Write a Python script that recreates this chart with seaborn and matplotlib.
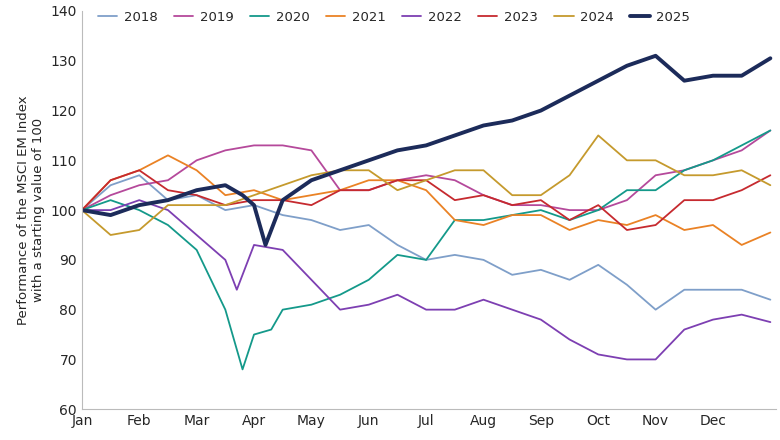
import matplotlib
matplotlib.use("Agg")
import matplotlib.pyplot as plt
import seaborn as sns
import pandas as pd

months = ["Jan","Feb","Mar","Apr","May","Jun","Jul","Aug","Sep","Oct","Nov","Dec"]
t_std = [0,0.5,1,1.5,2,2.5,3,3.5,4,4.5,5,5.5,6,6.5,7,7.5,8,8.5,9,9.5,10,10.5,11,11.5,12]

v2018 = [100,105,107,102,103,100,101,99,98,96,97,93,90,91,90,87,88,86,89,85,80,84,84,84,82]
v2019 = [100,103,105,106,110,112,113,113,112,104,104,106,107,106,103,101,101,100,100,102,107,108,110,112,116]
t2020 = [0,0.5,1,1.5,2,2.5,2.8,3,3.3,3.5,4,4.5,5,5.5,6,6.5,7,7.5,8,8.5,9,9.5,10,10.5,11,11.5,12]
v2020 = [100,102,100,97,92,80,68,75,76,80,81,83,86,91,90,98,98,99,100,98,100,104,104,108,110,113,116]
v2021 = [100,106,108,111,108,103,104,102,103,104,106,106,104,98,97,99,99,96,98,97,99,96,97,93,95.5]
t2022 = [0,0.5,1,1.5,2,2.5,2.7,3,3.5,4,4.5,5,5.5,6,6.5,7,7.5,8,8.5,9,9.5,10,10.5,11,11.5,12]
v2022 = [100,100,102,100,95,90,84,93,92,86,80,81,83,80,80,82,80,78,74,71,70,70,76,78,79,77.5]
v2023 = [100,106,108,104,103,101,102,102,101,104,104,106,106,102,103,101,102,98,101,96,97,102,102,104,107]
v2024 = [100,95,96,101,101,101,103,105,107,108,108,104,106,108,108,103,103,107,115,110,110,107,107,108,105]
t2025 = [0,0.5,1,1.5,2,2.5,2.8,3,3.2,3.5,4,4.5,5,5.5,6,6.5,7,7.5,8,8.5,9,9.5,10,10.5,11,11.5,12]
v2025 = [100,99,101,102,104,105,103,101,93,102,106,108,110,112,113,115,117,118,120,123,126,129,131,126,127,127,130.5]

series = [("2018",t_std,v2018,"#7f9fc9",1.3),("2019",t_std,v2019,"#b5499b",1.3),
          ("2020",t2020,v2020,"#14998a",1.3),("2021",t_std,v2021,"#ea8225",1.3),
          ("2022",t2022,v2022,"#7d3fb2",1.3),("2023",t_std,v2023,"#c62a2f",1.3),
          ("2024",t_std,v2024,"#c59a2d",1.3),("2025",t2025,v2025,"#1c2b5a",2.8)]

sns.set_style("white")
fig, ax = plt.subplots(figsize=(7.8,4.4), dpi=100)
for name,t,v,c,lw in series:
    df = pd.DataFrame({"t":t,"v":v})
    sns.lineplot(data=df,x="t",y="v",ax=ax,color=c,linewidth=lw,label=name)
ax.set_xlim(0,12.1); ax.set_ylim(60,140)
ax.set_yticks(range(60,141,10))
ax.set_xticks(range(12)); ax.set_xticklabels(months)
ax.set_xlabel(""); ax.set_ylabel("Performance of the MSCI EM Index\nwith a starting value of 100", fontsize=9.5)
for s in ["top","right"]: ax.spines[s].set_visible(False)
for s in ["left","bottom"]: ax.spines[s].set_color("#bbbbbb")
ax.tick_params(labelsize=10, length=0)
ax.legend(ncol=8, frameon=False, loc="lower left", bbox_to_anchor=(0.015,0.955), fontsize=9.5,
          handlelength=1.5, handletextpad=0.5, columnspacing=1.2, borderaxespad=0)
fig.subplots_adjust(left=0.105, right=0.995, top=0.975, bottom=0.07)
fig.savefig("out.png")
